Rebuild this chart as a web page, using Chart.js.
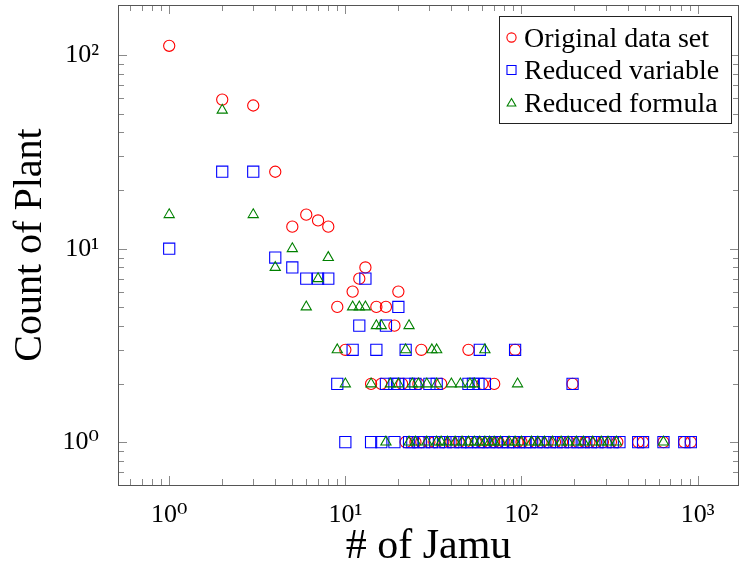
<!DOCTYPE html>
<html lang="en">
<head>
<meta charset="UTF-8">
<title>Count of Plant vs # of Jamu</title>
<script src="https://cdn.jsdelivr.net/npm/chart.js"></script>
<style>
  html, body { margin: 0; padding: 0; background: #fff; }
  canvas { display: block; }
</style>
</head>
<body>
<canvas id="chart" width="740" height="572"></canvas>
<script>
// values (x = # of Jamu, y = Count of Plant)
const origJamu = [1, 2, 3, 4, 5, 6, 7, 8, 13, 12, 11, 20, 9, 15, 17, 19, 10, 27, 50, 92,
  14, 16, 21, 26, 35, 60, 70, 195,
  22, 25, 27, 30, 32, 36, 40, 44, 48, 55, 60, 64, 70, 74, 80, 88, 95, 100, 110, 119,
  130, 141, 155, 170, 185, 210, 230, 243, 265, 290, 322, 350, 460, 490, 640, 840, 915];
const origPlant = [112, 59, 55, 25, 13, 15, 14, 13, 8, 7, 6, 6, 5, 5, 5, 4, 3, 3, 3, 3,
  2, 2, 2, 2, 2, 2, 2, 2,
  1, 1, 1, 1, 1, 1, 1, 1, 1, 1, 1, 1, 1, 1, 1, 1, 1, 1, 1, 1,
  1, 1, 1, 1, 1, 1, 1, 1, 1, 1, 1, 1, 1, 1, 1, 1, 1];

const varJamu = [1, 2, 3, 4, 5, 6, 7, 8, 13, 20, 12, 17, 11, 15, 22, 58, 92,
  9, 17, 19, 20, 23, 25, 30, 33, 50, 53, 57, 62, 195,
  10, 14, 16, 19, 23, 24, 26, 28, 31, 34, 37, 41, 45, 49, 52, 57, 61, 66, 72, 78,
  84, 90, 97, 105, 112, 122, 133, 145, 158, 172, 190, 208, 225, 248, 270, 300, 330, 360,
  460, 490, 640, 840, 915];
const varPlant = [10, 25, 25, 9, 8, 7, 7, 7, 7, 5, 4, 4, 3, 3, 3, 3, 3,
  2, 2, 2, 2, 2, 2, 2, 2, 2, 2, 2, 2, 2,
  1, 1, 1, 1, 1, 1, 1, 1, 1, 1, 1, 1, 1, 1, 1, 1, 1, 1, 1, 1,
  1, 1, 1, 1, 1, 1, 1, 1, 1, 1, 1, 1, 1, 1, 1, 1, 1, 1,
  1, 1, 1, 1, 1];

const formJamu = [1, 2, 3, 4, 5, 6, 7, 8, 11, 12, 13, 15, 16, 23, 9, 22, 31, 33, 62,
  10, 14, 18, 20, 24, 26, 29, 33, 40, 45, 51, 54, 95,
  17, 23, 25, 29, 33, 35, 38, 42, 46, 50, 54, 58, 62, 66, 70, 76, 85, 92, 100,
  114, 124, 135, 150, 168, 184, 205, 225, 254, 284, 310, 346, 640];
const formPlant = [15, 52, 15, 8, 10, 5, 7, 9, 5, 5, 5, 4, 4, 4, 3, 3, 3, 3, 3,
  2, 2, 2, 2, 2, 2, 2, 2, 2, 2, 2, 2, 2,
  1, 1, 1, 1, 1, 1, 1, 1, 1, 1, 1, 1, 1, 1, 1, 1, 1, 1, 1,
  1, 1, 1, 1, 1, 1, 1, 1, 1, 1, 1, 1, 1];

const xMajor = [1, 10, 100, 1000];
const xTickLabels = ['10\u2070', '10\u00b9', '10\u00b2', '10\u00b3'];
const yMajor = [1, 10, 100];
const yTickLabels = ['10\u2070', '10\u00b9', '10\u00b2'];

const seriesNames = ['Original data set', 'Reduced variable', 'Reduced formula'];
const serif = "'Liberation Serif', 'DejaVu Serif', serif";

function toPoints(xs, ys) {
  return xs.map((x, i) => ({ x: x, y: ys[i] }));
}

// minor tick positions 1..9 x 10^k inside [min, max]
function logTicks(min, max) {
  const out = [];
  for (let e = -1; e <= 4; e++) {
    for (let m = 1; m <= 9; m++) {
      const v = m * Math.pow(10, e);
      if (v >= min && v <= max) out.push({ v: v, major: m === 1 });
    }
  }
  return out;
}

// pgfplots style box with inward ticks on all four sides
const axisBox = {
  id: 'axisBox',
  beforeDatasetsDraw(chart) {
    const { ctx, chartArea: a, scales: { x, y } } = chart;
    ctx.save();
    ctx.lineWidth = 1;
    ctx.strokeStyle = '#8a8a8a';
    ctx.beginPath();
    logTicks(x.min, x.max).forEach(t => {
      const px = Math.round(x.getPixelForValue(t.v)) + 0.5;
      const len = t.major ? 9 : 6;
      ctx.moveTo(px, a.bottom); ctx.lineTo(px, a.bottom - len);
      ctx.moveTo(px, a.top); ctx.lineTo(px, a.top + len);
    });
    logTicks(y.min, y.max).forEach(t => {
      const py = Math.round(y.getPixelForValue(t.v)) + 0.5;
      const len = t.major ? 9 : 6;
      ctx.moveTo(a.left, py); ctx.lineTo(a.left + len, py);
      ctx.moveTo(a.right, py); ctx.lineTo(a.right - len, py);
    });
    ctx.stroke();
    ctx.strokeStyle = '#555';
    ctx.strokeRect(Math.round(a.left) + 0.5, Math.round(a.top) + 0.5,
      Math.round(a.right - a.left) - 1, Math.round(a.bottom - a.top));
    ctx.restore();
  }
};

function drawMark(ctx, style, cx, cy, r) {
  ctx.beginPath();
  if (style === 'circle') {
    ctx.arc(cx, cy, r, 0, Math.PI * 2);
  } else if (style === 'rect') {
    const s = r * Math.SQRT1_2;
    ctx.rect(cx - s, cy - s, 2 * s, 2 * s);
  } else {
    ctx.moveTo(cx, cy - r);
    ctx.lineTo(cx + 0.866 * r, cy + 0.5 * r);
    ctx.lineTo(cx - 0.866 * r, cy + 0.5 * r);
    ctx.closePath();
  }
  ctx.stroke();
}

const legendBox = {
  id: 'legendBox',
  afterDraw(chart) {
    const ctx = chart.ctx;
    ctx.save();
    ctx.fillStyle = '#fff';
    ctx.fillRect(499.5, 16.5, 232, 107);
    ctx.strokeStyle = '#222';
    ctx.lineWidth = 1;
    ctx.strokeRect(499.5, 16.5, 232, 107);
    const rows = [37.5, 70, 102.5];
    chart.data.datasets.forEach((ds, i) => {
      ctx.strokeStyle = ds.borderColor;
      ctx.lineWidth = 1.1;
      const r = ds.pointStyle === 'rect' ? 6.4 : ds.pointStyle === 'circle' ? 4.6 : 5;
      drawMark(ctx, ds.pointStyle, 511.5, rows[i] + (ds.pointStyle === 'triangle' ? 1 : 0), r);
      ctx.fillStyle = '#000';
      ctx.font = "28px " + serif;
      ctx.textBaseline = 'alphabetic';
      ctx.textAlign = 'left';
      ctx.fillText(ds.label, 524, rows[i] + 9);
    });
    ctx.restore();
  }
};

const ctx = document.getElementById('chart').getContext('2d');
new Chart(ctx, {
  type: 'scatter',
  data: {
    datasets: [
      { label: seriesNames[0], data: toPoints(origJamu, origPlant), pointStyle: 'circle',
        pointRadius: 5.6, borderColor: '#ff0000', backgroundColor: 'rgba(0,0,0,0)', borderWidth: 1.1, order: 3 },
      { label: seriesNames[1], data: toPoints(varJamu, varPlant), pointStyle: 'rect',
        pointRadius: 7.9, borderColor: '#0000ff', backgroundColor: 'rgba(0,0,0,0)', borderWidth: 1.1, order: 2 },
      { label: seriesNames[2], data: toPoints(formJamu, formPlant), pointStyle: 'triangle',
        pointRadius: 5.9, borderColor: '#008000', backgroundColor: 'rgba(0,0,0,0)', borderWidth: 1.1, order: 1 }
    ]
  },
  options: {
    responsive: false,
    animation: false,
    layout: { autoPadding: false, padding: { top: 5, right: 1, left: 0, bottom: 0 } },
    plugins: { legend: { display: false }, tooltip: { enabled: false } },
    scales: {
      x: {
        type: 'logarithmic',
        min: 0.512,
        max: 1718,
        grid: { display: false },
        border: { display: false },
        afterBuildTicks: s => { s.ticks = xMajor.map(v => ({ value: v })); },
        afterFit: s => { s.height = 87; s.paddingLeft = 0; s.paddingRight = 0; },
        ticks: {
          autoSkip: false, maxRotation: 0, padding: 7, color: '#000',
          font: { family: serif, size: 26 },
          callback: (v, i) => xTickLabels[i]
        },
        title: {
          display: true, text: '# of Jamu', color: '#000',
          font: { family: serif, size: 42 }, padding: { top: 4, bottom: 0 }
        }
      },
      y: {
        type: 'logarithmic',
        min: 0.612,
        max: 182,
        grid: { display: false },
        border: { display: false },
        afterBuildTicks: s => { s.ticks = yMajor.map(v => ({ value: v })); },
        afterFit: s => { s.width = 118; s.paddingTop = 0; s.paddingBottom = 0; },
        ticks: {
          autoSkip: false, padding: 11, color: '#000',
          font: { family: serif, size: 26 },
          callback: (v, i) => yTickLabels[i]
        },
        title: {
          display: true, text: 'Count of Plant', color: '#000',
          font: { family: serif, size: 40 }, padding: { top: 6, bottom: 0 }
        }
      }
    }
  },
  plugins: [axisBox, legendBox]
});
</script>
</body>
</html>
